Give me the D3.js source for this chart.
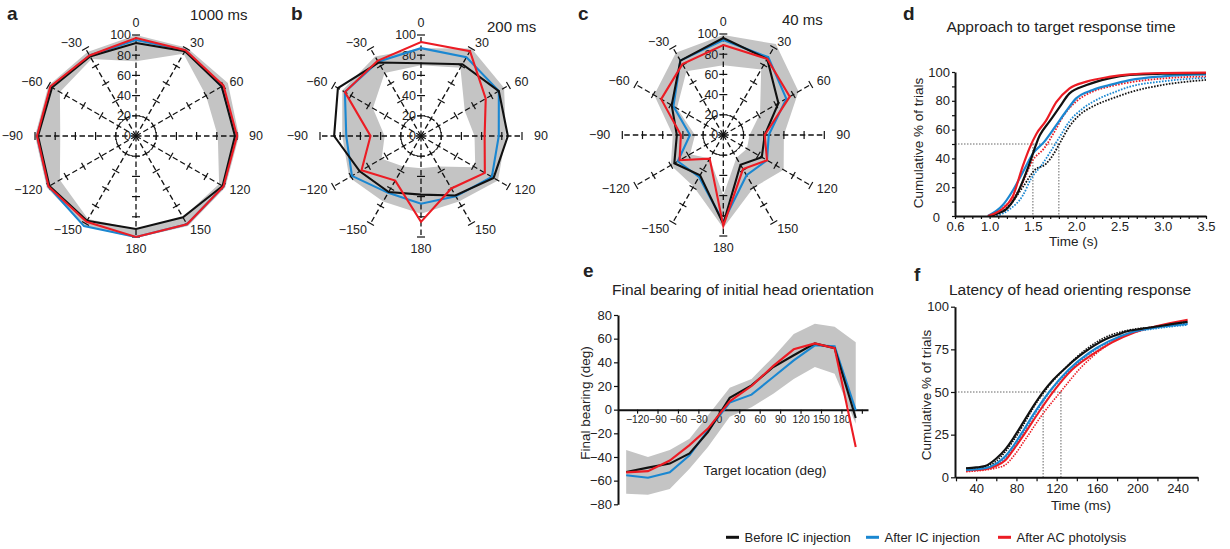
<!DOCTYPE html>
<html><head><meta charset="utf-8">
<script src="https://cdn.jsdelivr.net/npm/d3@7"></script>
<style>
body{margin:0;background:#fff;}
svg{display:block;font-family:"Liberation Sans",Arial,sans-serif;}
</style></head><body>
<svg id="chart" width="1230" height="549"></svg>
<script>
// ---------- DATA ----------
const polarAngles = [0,30,60,90,120,150,180,-150,-120,-90,-60,-30];
const polarTickValues = [0,20,40,60,80,100];

// panel a (1000 ms)
const aBlack = [92,97,98,98,99,93,92,97,99,97,96,91];
const aBlue  = [95,98,98,99,100,101,100,103,100,98,97,92];
const aRed   = [97,98,100,100,100,101,100,98,100,98,98,92];
const aLow   = [74,94,80,81,95,93,92,95,87,75,87,88];
const aHigh  = [100,101,105,102,102,103,101,103,102,100,100,96];

// panel b (200 ms)
const bBlack = [72,82,89,86,83,68,58,64,70,86,95,84];
const bBlue  = [87,90,89,77,81,69,67,65,79,74,87,85];
const bRed   = [93,97,74,63,73,60,85,51,68,50,87,86];
const bLow   = [70,78,50,53,62,35,32,35,45,36,55,72];
const bHigh  = [87,100,95,84,88,75,77,75,82,78,90,91];

// panel c (40 ms)
const cBlack = [96,87,63,41,44,34,88,46,56,46,59,85];
const cBlue  = [94,89,72,45,50,46,86,48,52,33,57,85];
const cRed   = [89,87,76,41,50,39,90,27,50,42,71,81];
const cLow   = [69,75,42,26,27,26,60,27,38,28,53,73];
const cHigh  = [99,104,86,60,69,60,92,59,60,50,79,94];

// panel d: approach to target response time [time (s), cumulative %]
const dSolidBlack = [[1.0,0],[1.1,2],[1.19,4.6],[1.31,14.4],[1.44,33],[1.58,56],[1.69,65.5],[1.81,75.8],[1.92,85],[2.12,90.9],[2.38,95.6],[2.62,97.9],[3.0,98.8],[3.5,99.2]];
const dSolidBlue  = [[0.98,0],[1.15,7.4],[1.27,17.9],[1.385,30.6],[1.5,43.4],[1.63,51.5],[1.77,63.1],[1.88,72.4],[2.0,81.7],[2.19,87.5],[2.38,90.9],[2.62,94.4],[3.0,97],[3.5,98.3]];
const dSolidRed   = [[0.98,0],[1.05,1.5],[1.15,5],[1.27,14],[1.385,35],[1.46,47],[1.54,57],[1.65,66],[1.77,79],[1.92,88.5],[2.12,93.3],[2.38,96.6],[2.62,98.4],[3.0,99.3],[3.5,99.6]];
const dDotBlack   = [[1.04,0],[1.23,7.4],[1.385,20.2],[1.52,31.8],[1.654,36.4],[1.73,42.2],[1.83,52.7],[1.92,62],[2.04,70.2],[2.23,77.2],[2.42,81.7],[2.62,85.9],[3.0,91],[3.5,94.5]];
const dDotBlue    = [[1.08,0],[1.23,4.6],[1.385,14.4],[1.48,26],[1.6,35.3],[1.69,43.4],[1.81,55],[1.92,65.5],[2.08,74.8],[2.27,81.7],[2.46,86.4],[2.62,89.8],[3.0,93.5],[3.5,96]];
const dDotRed     = [[1.04,0],[1.19,7.4],[1.35,19],[1.5,38.8],[1.63,47],[1.75,58.6],[1.86,70.2],[2.0,79.5],[2.19,86.4],[2.38,89.8],[2.62,92.8],[3.0,95.5],[3.5,97]];
const dXTicks = [0.6,1.0,1.5,2.0,2.5,3.0,3.5];
const dMedians = [1.5,1.8];

// panel e: final bearing vs target location (deg)
const eX     = [-136,-104,-72,-43,-16,16,48,80,110,141,170,201];
const eBlack = [-52.7,-49,-45.6,-37,-19,10,20.5,36,46,56,52,-7];
const eBlue  = [-55.5,-57.5,-53,-38.6,-17.5,6,12.7,27.6,41.7,54.4,53.5,-0.5];
const eRed   = [-53,-52,-43,-30,-16,7,20,37,51,56,52,-31.5];
const eHigh  = [-34,-40,-34,-24.5,-5,18.6,26,44.5,64,72.7,70,57];
const eLow   = [-71,-72,-67,-50,-31.5,-6,2,13.5,26,36,30.4,-12];
const eXTicks = [-120,-90,-60,-30,0,30,60,90,120,150,180,210];
const eYTicks = [-80,-60,-40,-20,0,20,40,60,80];

// panel f: latency of head orienting response [time (ms), cumulative %]
const fSolidBlack = [[30,5.3],[40,5.8],[48.8,6.6],[60,11],[68.7,16.2],[77,23],[85.2,30.7],[96,41],[106.7,50.2],[117,57.5],[128.2,63.8],[138,69],[148,73.5],[158,77.5],[168,80.8],[180,83.5],[191,85.7],[204,87],[217.6,88.2],[234,89.8],[250,91.2]];
const fSolidBlue  = [[30,4.3],[48.8,5.3],[60,8],[68.7,12.2],[77,18.5],[85.2,25.9],[98,38],[112.7,50.2],[131.5,62.9],[151.4,72.7],[171,79.5],[194.5,85],[217.6,87.7],[250,89.9]];
const fSolidRed   = [[30,3.9],[48.8,4.7],[60,6.8],[68.7,9.8],[78,17],[88.5,25.9],[102,38],[116.6,50.2],[134.9,62.9],[154.7,71.7],[174.6,78.9],[197.7,85],[220.9,88.8],[250,92.3]];
const fDotBlack   = [[30,5.3],[48.8,6.2],[60,9.5],[68.7,14.8],[77,21.5],[86.9,30.7],[97,41],[107.7,50.2],[128.2,63.8],[148,74.5],[168,82],[191,86.2],[217.6,88.2],[250,90.6]];
const fDotBlue    = [[30,4.6],[48.8,5.3],[60,7.5],[68.7,10.8],[77,17.5],[86.9,25.9],[100,38.5],[113.3,50.2],[133.5,62.9],[153.4,72.7],[173,79.5],[197,85],[220,87.3],[250,89.3]];
const fDotRed     = [[30,3.3],[48.8,4.3],[60,5.5],[68.7,7.2],[78,13],[88.5,21.9],[106,37],[124,50.2],[144.8,64.8],[168,76.5],[187.8,83.4],[211,87.3],[230,89.8],[250,91.8]];
const fXTicks = [20,40,60,80,100,120,140,160,180,200,220,240,260];
const fYTicks = [0,25,50,75,100];
const fMedians = [106.5,124.2];

const legendLabels = ["Before IC injection","After IC injection","After AC photolysis"];

// ---------- DRAWING ----------
const COL = {black:"#111111", blue:"#1a87d1", red:"#ec1c24", gray:"#c4c4c4", text:"#222222"};
const svg = d3.select("#chart");
svg.append("rect").attr("width",1230).attr("height",549).attr("fill","#fff");

const minus = v => v < 0 ? "\u2212" + (-v) : String(v);

const rScale = d3.scaleLinear().domain([0,100]).range([0,101]);
const aScale = d3.scaleLinear().domain([0,360]).range([0,2*Math.PI]);

function drawPolar(p){
  const g = svg.append("g").attr("transform",`translate(${p.cx},${p.cy})`);
  const band = polarAngles.map((a,i)=>({a, lo:p.lo[i], hi:p.hi[i]}));
  const area = d3.areaRadial().angle(d=>aScale(d.a)).innerRadius(d=>rScale(d.lo)).outerRadius(d=>rScale(d.hi)).curve(d3.curveLinearClosed);
  g.append("path").datum(band).attr("d",area).attr("fill",COL.gray).attr("fill-rule","evenodd");

  // spokes
  polarAngles.forEach(a=>{
    const t = aScale(a);
    const [x2,y2] = d3.pointRadial(t, rScale(100));
    g.append("line").attr("x1",0).attr("y1",0).attr("x2",x2).attr("y2",y2)
      .attr("stroke",COL.black).attr("stroke-width",1.3).attr("stroke-dasharray","5.5,3");
    polarTickValues.slice(1).forEach(v=>{
      const [x,y] = d3.pointRadial(t, rScale(v));
      const ux = Math.cos(t)*4, uy = Math.sin(t)*4;
      g.append("line").attr("x1",x-ux).attr("y1",y-uy).attr("x2",x+ux).attr("y2",y+uy)
        .attr("stroke",COL.black).attr("stroke-width",1.2);
    });
  });
  g.append("circle").attr("r",rScale(20)).attr("fill","none").attr("stroke",COL.black)
    .attr("stroke-width",1).attr("stroke-dasharray","4,3");

  polarTickValues.forEach(v=>{
    g.append("text").attr("x",-5).attr("y",-rScale(v)).attr("dy","0.35em")
      .attr("text-anchor","end").attr("font-size",12.5).attr("fill",COL.text).text(v);
  });

  const line = d3.lineRadial().angle(d=>aScale(d.a)).radius(d=>rScale(d.v)).curve(d3.curveLinearClosed);
  [[p.blue,COL.blue],[p.black,COL.black],[p.red,COL.red]].forEach(([vals,c])=>{
    g.append("path").datum(polarAngles.map((a,i)=>({a, v:vals[i]})))
      .attr("d",line).attr("fill","none").attr("stroke",c).attr("stroke-width",2.1)
      .attr("stroke-linejoin","miter");
  });

  polarAngles.forEach(a=>{
    const card = a % 90 === 0;
    const [x,y] = d3.pointRadial(aScale(a), card ? 113 : 108);
    const anchor = Math.abs(x) < 1 ? "middle" : (x > 0 ? "start" : "end");
    g.append("text").attr("x",x).attr("y",y).attr("dy","0.35em").attr("text-anchor",anchor)
      .attr("font-size",12.5).attr("fill",COL.text).text(minus(a));
  });

  svg.append("text").attr("x",p.msX).attr("y",p.msY).attr("font-size",15).attr("fill",COL.text).text(p.ms);
  svg.append("text").attr("x",p.lx).attr("y",20).attr("font-size",19).attr("font-weight","bold").attr("fill",COL.text).text(p.letter);
}

drawPolar({cx:136,cy:136,black:aBlack,blue:aBlue,red:aRed,lo:aLow,hi:aHigh,ms:"1000 ms",msX:190,msY:20,letter:"a",lx:7});
drawPolar({cx:421,cy:136,black:bBlack,blue:bBlue,red:bRed,lo:bLow,hi:bHigh,ms:"200 ms",msX:487,msY:31.5,letter:"b",lx:291});
drawPolar({cx:723.3,cy:135,black:cBlack,blue:cBlue,red:cRed,lo:cLow,hi:cHigh,ms:"40 ms",msX:782,msY:25,letter:"c",lx:578});

function styleAxis(g, fs){
  g.attr("font-family",null).attr("font-size",null);
  g.select(".domain").attr("stroke","#111").attr("stroke-width",2);
  g.selectAll(".tick line").attr("stroke","#111").attr("stroke-width",1.2);
  g.selectAll(".tick text").attr("font-size",fs||13).attr("fill",COL.text);
  return g;
}
function addText(x,y,txt,size,opts={}){
  const t = svg.append("text").attr("x",x).attr("y",y).attr("font-size",size).attr("fill",COL.text)
    .attr("text-anchor",opts.anchor||"middle").text(txt);
  if(opts.rotate){ t.attr("x",0).attr("y",0).attr("dy","0.35em").attr("transform",`translate(${x},${y}) rotate(-90)`); }
  if(opts.bold) t.attr("font-weight","bold");
  return t;
}
const refStyle = s => s.attr("stroke","#555").attr("stroke-width",0.9).attr("stroke-dasharray","1.5,1.5").attr("fill","none");

// ---------- panel d ----------
{
  const x = d3.scaleLinear().domain([0.6,3.5]).range([955,1206]);
  const y = d3.scaleLinear().domain([0,100]).range([216,72]);
  const g = svg.append("g");
  refStyle(g.append("line").attr("x1",x(0.6)).attr("x2",x(dMedians[1])).attr("y1",y(50)).attr("y2",y(50)));
  dMedians.forEach(m=>refStyle(g.append("line").attr("x1",x(m)).attr("x2",x(m)).attr("y1",y(50)).attr("y2",y(0))));
  const ln = d3.line().x(d=>x(d[0])).y(d=>y(d[1])).curve(d3.curveMonotoneX);
  [[dDotBlack,COL.black],[dDotBlue,COL.blue],[dDotRed,COL.red]].forEach(([dat,c])=>
    g.append("path").datum(dat).attr("d",ln).attr("fill","none").attr("stroke",c).attr("stroke-width",1.8).attr("stroke-dasharray","1.6,1.4"));
  [[dSolidBlue,COL.blue],[dSolidBlack,COL.black],[dSolidRed,COL.red]].forEach(([dat,c])=>
    g.append("path").datum(dat).attr("d",ln).attr("fill","none").attr("stroke",c).attr("stroke-width",2.2));
  const xt = d3.range(6,36).map(i=>i/10);
  styleAxis(svg.append("g").attr("transform",`translate(0,${y(0)})`)
    .call(d3.axisBottom(x).tickValues(xt).tickSize(3).tickPadding(3).tickSizeOuter(0)
      .tickFormat(v=>dXTicks.some(t=>Math.abs(t-v)<1e-6)?d3.format(".1f")(v):"")));
  const ya = styleAxis(svg.append("g").attr("transform",`translate(${x(0.6)},0)`)
    .call(d3.axisLeft(y).tickValues(d3.range(0,101,10)).tickSize(3).tickPadding(2).tickSizeOuter(0)
      .tickFormat(v=>v%20===0?v:"")));
  ya.selectAll(".tick").filter(v=>v===0).select("text").attr("dx",-10).attr("dy","0.45em");
  addText(1061,31.5,"Approach to target response time",15.5);
  addText(1073.5,245.5,"Time (s)",13.5);
  addText(918,143,"Cumulative % of trials",13.5,{rotate:true});
  addText(903,19.5,"d",19,{bold:true,anchor:"start"});
}

// ---------- panel e ----------
{
  const x = d3.scaleLinear().domain([-148,219]).range([618,868]);
  const y = d3.scaleLinear().domain([-80,80]).range([504.3,315]);
  const g = svg.append("g");
  const area = d3.area().x((d,i)=>x(eX[i])).y0(d=>y(d[0])).y1(d=>y(d[1]));
  g.append("path").datum(eLow.map((v,i)=>[v,eHigh[i]])).attr("d",area).attr("fill",COL.gray);
  styleAxis(svg.append("g").attr("transform",`translate(0,${y(0)})`)
    .call(d3.axisBottom(x).tickValues(eXTicks).tickSize(4).tickPadding(2).tickSizeOuter(0)
      .tickFormat(v=>v<=180?minus(v):"")), 10.3);
  styleAxis(svg.append("g").attr("transform",`translate(${x(-148)},0)`)
    .call(d3.axisLeft(y).tickValues(eYTicks).tickSize(4).tickPadding(2).tickSizeOuter(0).tickFormat(minus)));
  const ln = d3.line().x((d,i)=>x(eX[i])).y(d=>y(d));
  [[eBlue,COL.blue],[eBlack,COL.black],[eRed,COL.red]].forEach(([dat,c])=>
    svg.append("path").datum(dat).attr("d",ln).attr("fill","none").attr("stroke",c).attr("stroke-width",2.1));
  addText(743,295,"Final bearing of initial head orientation",15.5);
  addText(765,475,"Target location (deg)",13.5);
  addText(585,403,"Final bearing (deg)",13.5,{rotate:true});
  addText(583,277.3,"e",19,{bold:true,anchor:"start"});
}

// ---------- panel f ----------
{
  const x = d3.scaleLinear().domain([19,260]).range([955,1197.7]);
  const y = d3.scaleLinear().domain([0,100]).range([477.3,306.7]);
  const g = svg.append("g");
  refStyle(g.append("line").attr("x1",x(19)).attr("x2",x(fMedians[1])).attr("y1",y(50)).attr("y2",y(50)));
  fMedians.forEach(m=>refStyle(g.append("line").attr("x1",x(m)).attr("x2",x(m)).attr("y1",y(50)).attr("y2",y(0))));
  const ln = d3.line().x(d=>x(d[0])).y(d=>y(d[1])).curve(d3.curveMonotoneX);
  [[fDotRed,COL.red],[fDotBlue,COL.blue],[fDotBlack,COL.black]].forEach(([dat,c])=>
    g.append("path").datum(dat).attr("d",ln).attr("fill","none").attr("stroke",c).attr("stroke-width",1.6).attr("stroke-dasharray","1.5,1.2"));
  [[fSolidRed,COL.red],[fSolidBlue,COL.blue],[fSolidBlack,COL.black]].forEach(([dat,c])=>
    g.append("path").datum(dat).attr("d",ln).attr("fill","none").attr("stroke",c).attr("stroke-width",2.1));
  styleAxis(svg.append("g").attr("transform",`translate(0,${y(0)})`)
    .call(d3.axisBottom(x).tickValues(fXTicks).tickSize(4).tickPadding(2).tickSizeOuter(0)
      .tickFormat(v=>(v%40===0&&v>=40&&v<=240)?v:"")));
  styleAxis(svg.append("g").attr("transform",`translate(${x(19)},0)`)
    .call(d3.axisLeft(y).tickValues(fYTicks).tickSize(4).tickPadding(2).tickSizeOuter(0)));
  addText(1070,295,"Latency of head orienting response",15.5);
  addText(1081,510,"Time (ms)",13.5);
  addText(926.7,395,"Cumulative % of trials",13.5,{rotate:true});
  addText(914,280.7,"f",19,{bold:true,anchor:"start"});
}

// ---------- legend ----------
{
  const lx = [726,866,998];
  const cols = [COL.black,COL.blue,COL.red];
  legendLabels.forEach((lab,i)=>{
    svg.append("line").attr("x1",lx[i]).attr("x2",lx[i]+13).attr("y1",537.3).attr("y2",537.3)
      .attr("stroke",cols[i]).attr("stroke-width",3);
    svg.append("text").attr("x",lx[i]+18.5).attr("y",541.8).attr("font-size",13).attr("fill",COL.text).text(lab);
  });
}
</script>
</body></html>
